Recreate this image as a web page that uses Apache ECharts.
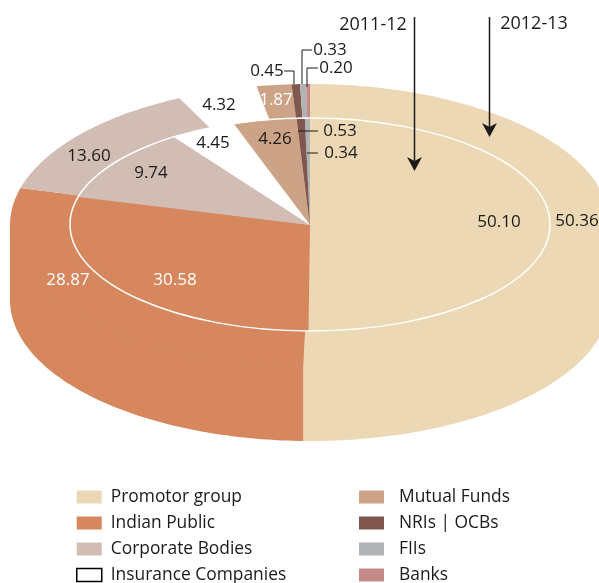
<!DOCTYPE html>
<html><head><meta charset="utf-8">
<style>html,body{margin:0;padding:0;background:#fff}#c{width:599px;height:583px}</style>
<script src="https://cdn.jsdelivr.net/npm/echarts@6/dist/echarts.min.js"></script>
</head><body><div id="c"></div>
<script>
const categories = ['Promotor group','Indian Public','Corporate Bodies','Insurance Companies','Mutual Funds','NRIs | OCBs','FIIs','Banks'];
const values201213 = [50.36,28.87,13.60,4.32,1.87,0.45,0.33,0.20];
const values201112 = [50.10,30.58,9.74,4.45,4.26,0.53,0.34,0];
const sliceColors = ['#ECD8B4','#D6875D','#D1BDB4','#FFFFFF','#CCA386','#7F574E','#B1B3B5','#C48A88'];
const periods = ['2012-13','2011-12'];

const FONT = '"Open Sans"';
const INK = '#1D1A1B';
const C = {cx:310, cy:225, depth:75};
const OUTER = {rx:300, ry:141};
const INNER = {rx:240, ry:106.5};

const pt = (g, deg, cy) => {
  const t = deg*Math.PI/180;
  return [C.cx + g.rx*Math.sin(t), (cy===undefined?C.cy:cy) - g.ry*Math.cos(t)];
};
const arc = (g, a, b, cy) => {
  const n = Math.max(2, Math.ceil(Math.abs(b-a)));
  const out = [];
  for (let i=0;i<=n;i++) out.push(pt(g, a+(b-a)*i/n, cy));
  return out;
};
const toDeg = v => v*3.6;
const startOf = (vals,i) => toDeg(vals.slice(0,i).reduce((s,x)=>s+x,0));

function renderSlice(params, api){
  const ring = api.value(0), v = api.value(1), i = params.seriesIndex;
  if (!v) return null;
  const fill = sliceColors[i];
  const vals = ring===0 ? values201213 : values201112;
  const g = ring===0 ? OUTER : INNER;
  let a = startOf(vals,i), b = a+toDeg(v);
  // the printed artwork shares the outer ring's Public/Corporate boundary on the inner ring
  if (ring===1 && i===1) b = startOf(values201213,2);
  if (ring===1 && i===2) a = startOf(values201213,2);
  const children = [{
    type:'polygon', z2: ring===0?2:3, silent:true,
    shape:{points:[[C.cx,C.cy]].concat(arc(g,a,b))},
    style:{fill:fill}
  }];
  if (ring===0){
    const wa = Math.max(a,90), wb = Math.min(b,270);
    if (wb>wa){
      children.push({
        type:'polygon', z2:1, silent:true,
        shape:{points:[[C.cx,C.cy],pt(g,wa)].concat(arc(g,wa,wb,C.cy+C.depth),[pt(g,wb)])},
        style:{fill:fill}
      });
    }
  }
  return {type:'group', children:children};
}

const series = categories.map((name,i)=>({
  type:'custom', name:name, coordinateSystem:'none', silent:true,
  itemStyle:{color:sliceColors[i]},
  renderItem:renderSlice,
  data:[[0,values201213[i]],[1,values201112[i]]]
}));

// annotation layout
const outerLabelPos = [[577,221,INK],[68,280,'#fff'],[89,156,INK],[219,105,INK],[276,100,'#fff'],[267,71,INK],[330,50,INK],[336,68,INK]];
const innerLabelPos = [[499,222,INK],[175,280,'#fff'],[151,173,INK],[213,143,INK],[275,139,INK],[340,131,INK],[341,153,INK]];
const periodPos = [[534,24],[373,25]];
const leaders = [
  [[284,71],[294,71],[294,84]],
  [[312,50],[302,50],[302,84]],
  [[318,68],[307,68],[307,87]],
  [[298,131],[318,131]],
  [[307,153],[318,153]]
];
const arrows = [[489.5,17,137],[414.5,17,171]];

const txt = (s,x,y,color,size)=>({type:'text',z:20,silent:true,x:x,y:y,
  style:{text:s,fill:color,font:(size||17)+'px '+FONT,textAlign:'center',textVerticalAlign:'middle'}});
const graphics = [];
graphics.push({type:'ellipse',z:15,silent:true,shape:{cx:C.cx,cy:C.cy-0.5,rx:INNER.rx,ry:INNER.ry},
  style:{fill:'none',stroke:'#fff',lineWidth:1.5}});
outerLabelPos.forEach((p,i)=>graphics.push(txt(values201213[i].toFixed(2),p[0],p[1],p[2])));
innerLabelPos.forEach((p,i)=>graphics.push(txt(values201112[i].toFixed(2),p[0],p[1],p[2])));
periods.forEach((s,i)=>graphics.push(txt(s,periodPos[i][0],periodPos[i][1],INK,18)));
leaders.forEach(pts=>graphics.push({type:'polyline',z:18,silent:true,shape:{points:pts},
  style:{fill:'none',stroke:INK,lineWidth:1}}));
arrows.forEach(([x,y0,y1])=>{
  graphics.push({type:'line',z:18,silent:true,shape:{x1:x,y1:y0,x2:x,y2:y1-6},style:{stroke:INK,lineWidth:1.5}});
  graphics.push({type:'polygon',z:18,silent:true,
    shape:{points:[[x,y1],[x-7.5,y1-14],[x,y1-10],[x+7.5,y1-14]]},style:{fill:INK}});
});

const legendOf = (names,left,pad)=>({
  left:left, top:488, height:130, width:230, orient:'vertical', itemWidth:25, itemHeight:13, itemGap:8,
  selectedMode:false, icon:'rect', padding:0,
  textStyle:{fontFamily:FONT,fontSize:17.4,color:INK,padding:[0,0,0,pad],height:18,lineHeight:18},
  data:names.map(n=>{
    const i = categories.indexOf(n);
    return {name:n,icon:'rect',itemStyle: i===3
      ? {color:'#fff',borderColor:'#000',borderWidth:1.5}
      : {color:sliceColors[i],borderWidth:0}};
  })
});

const chart = echarts.init(document.getElementById('c'),null,{renderer:'canvas'});
chart.setOption({
  animation:false, backgroundColor:'#fff',
  legend:[legendOf(categories.slice(0,4),76,4),legendOf(categories.slice(4),359,10)],
  series:series,
  graphic:{elements:graphics}
});
</script></body></html>
